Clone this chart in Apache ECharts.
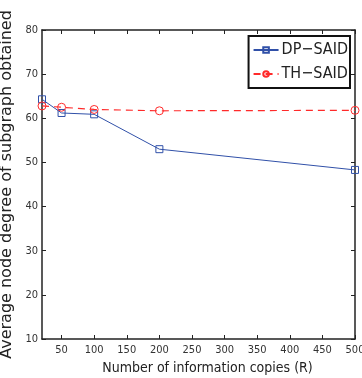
<!DOCTYPE html>
<html><head><meta charset="utf-8">
<script src="https://cdn.jsdelivr.net/npm/echarts@6/dist/echarts.min.js"></script>
<style>html,body{margin:0;padding:0;background:#fff}#c{width:362px;height:378px}</style>
</head><body><div id="c"></div>
<script>
const copies = [20, 50, 100, 200, 500];
const dpSaid = [64.3, 61.2, 60.9, 53.0, 48.3];
const thSaid = [62.8, 62.5, 62.0, 61.7, 61.8];
const xTicks = [50, 100, 150, 200, 250, 300, 350, 400, 450, 500];
const seriesNames = ['DP\u2212SAID', 'TH\u2212SAID'];
const xTitle = 'Number of information copies (R)';
const yTitle = 'Average node degree of subgraph obtained';

const blue = '#3050a8', red = '#ff2a2a';
const narrow = "'Liberation Sans Narrow','DejaVu Sans Condensed',sans-serif";
const chart = echarts.init(document.getElementById('c'), null, {renderer: 'canvas'});
const axisLine = {show: true, lineStyle: {color: '#222', width: 1.5}};
chart.setOption({
  animation: false,
  grid: {left: 42, top: 30, right: 7, bottom: 39, containLabel: false, outerBoundsMode: 'none'},
  legend: {
    right: 12, top: 36, orient: 'vertical',
    borderColor: '#111', borderWidth: 2, padding: [6, 2, 6, 4],
    itemGap: 8, itemWidth: 25, itemHeight: 7,
    textStyle: {fontFamily: narrow, fontSize: 16, color: '#222', padding: [0, 0, 0, -2]},
    data: seriesNames
  },
  xAxis: [{
    type: 'value', min: 20, max: 500, position: 'bottom',
    axisLine: axisLine,
    axisTick: {show: true, inside: true, length: 4, customValues: xTicks, lineStyle: {color: '#222'}},
    axisLabel: {customValues: xTicks, fontFamily: narrow, fontSize: 11, color: '#333', margin: 6},
    splitLine: {show: false},
    name: xTitle, nameLocation: 'middle', nameGap: 22,
    nameTextStyle: {fontFamily: narrow, fontSize: 14, color: '#222', padding: [0, 0, 0, 18]}
  }, {
    type: 'value', min: 20, max: 500, position: 'top',
    axisLine: axisLine,
    axisTick: {show: true, inside: true, length: 4, customValues: xTicks, lineStyle: {color: '#222'}},
    axisLabel: {show: false}, splitLine: {show: false}
  }],
  yAxis: [{
    type: 'value', min: 10, max: 80, interval: 10, position: 'left',
    axisLine: axisLine,
    axisTick: {show: true, inside: true, length: 4, lineStyle: {color: '#222'}},
    axisLabel: {fontFamily: narrow, fontSize: 11, color: '#333', margin: 4},
    splitLine: {show: false},
    name: yTitle, nameLocation: 'middle', nameGap: 16,
    nameTextStyle: {fontFamily: "'DejaVu Sans',sans-serif", fontSize: 16, color: '#222'}
  }, {
    type: 'value', min: 10, max: 80, interval: 10, position: 'right',
    axisLine: axisLine,
    axisTick: {show: true, inside: true, length: 4, lineStyle: {color: '#222'}},
    axisLabel: {show: false}, splitLine: {show: false}
  }],
  series: [{
    name: seriesNames[0], type: 'line',
    data: copies.map((c, i) => [c, dpSaid[i]]),
    symbol: 'rect', symbolSize: 7,
    color: blue,
    itemStyle: {color: 'rgba(255,255,255,0)', borderColor: blue, borderWidth: 1},
    lineStyle: {color: blue, width: 1}
  }, {
    name: seriesNames[1], type: 'line',
    data: copies.map((c, i) => [c, thSaid[i]]),
    symbol: 'circle', symbolSize: 8,
    color: red,
    itemStyle: {color: 'rgba(255,255,255,0)', borderColor: red, borderWidth: 1},
    lineStyle: {color: red, width: 1.2, type: [7, 5]}
  }]
});
</script></body></html>
